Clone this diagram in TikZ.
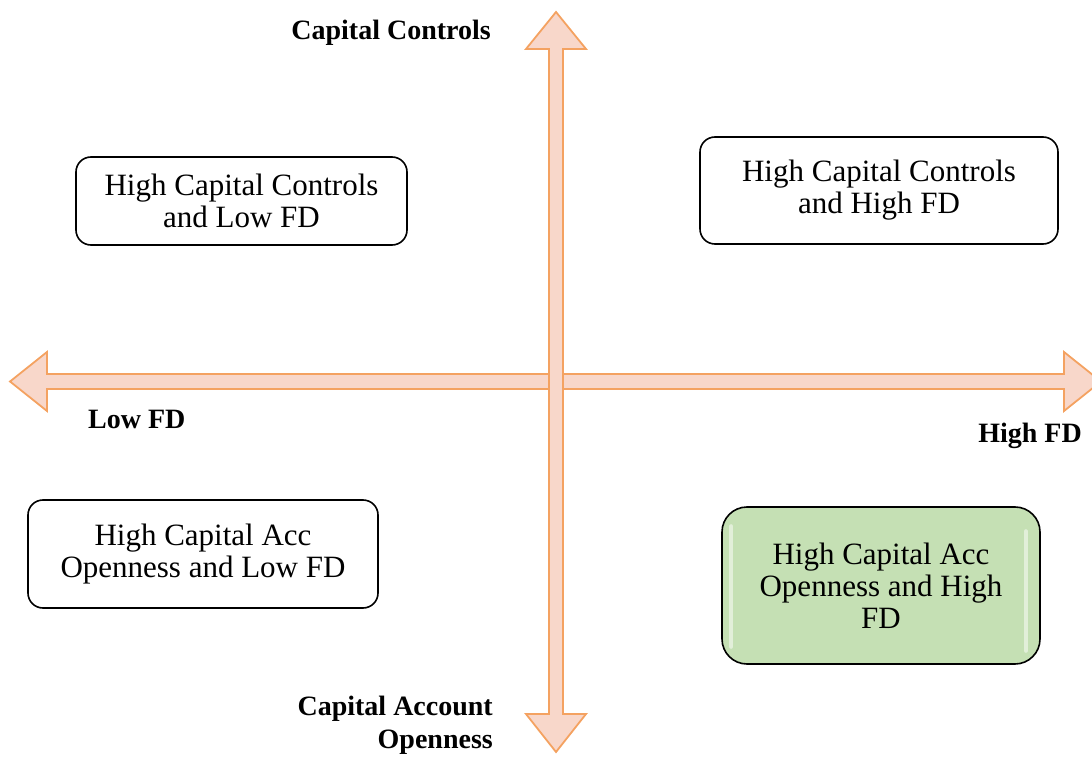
\documentclass[tikz,border=0pt]{standalone}
\usepackage{fontspec}
\setmainfont{Liberation Serif}
\usepackage{tikz}
\definecolor{QuadArrowFill}{RGB}{248,215,202}
\definecolor{QuadArrowEdge}{RGB}{244,162,97}
\definecolor{QuadGreen}{RGB}{197,224,180}

\begin{document}
\begin{tikzpicture}[x=1pt,y=-1pt,
  box/.style n args={4}{draw=black,line width=1.6pt,fill=#1,rounded corners=#2,minimum width=#3,minimum height=#4,align=center,inner sep=0pt,font=\fontsize{31}{32}\selectfont},
  axlab/.style={font=\fontsize{28}{33}\selectfont\bfseries,inner sep=0pt},
  axarrow/.style={draw=QuadArrowEdge,fill=QuadArrowFill,line width=1.8pt,line join=miter}]
    \useasboundingbox (0,0) rectangle (1092,759);
    \clip (0,0) rectangle (1092,759);
    % the two block arrows
    \draw[axarrow] (10,381.5) -- (47,352) -- (47,374) -- (1064,374) -- (1064,352) -- (1101,381.5)
       -- (1064,411) -- (1064,389) -- (47,389) -- (47,411) -- cycle;
    \draw[axarrow] (556,12) -- (586,49) -- (563,49) -- (563,714) -- (586,714) -- (556,752)
       -- (526,714) -- (549,714) -- (549,49) -- (526,49) -- cycle;
    \fill[QuadArrowFill] (550,375) rectangle (562,388);
    % quadrants
    \node[box={white}{15pt}{331pt}{88pt}] (ccLow) at (241.5,201) {High Capital Controls\\and Low FD};
    \node[box={white}{15pt}{358pt}{107pt}] (ccHigh) at (879,190.5) {High Capital Controls\\and High FD};
    \node[box={white}{15pt}{350pt}{108pt}] (kaLow) at (203,554) {High Capital Acc\\Openness and Low FD};
    \node[box={QuadGreen}{25pt}{318pt}{157pt}] (kaHigh) at (881,585.5) {High Capital Acc\\Openness and High\\FD};
    \draw[white,line width=4pt,line cap=round,opacity=0.5]
       ([xshift=10pt,yshift=-20pt]kaHigh.north west) -- ([xshift=10pt,yshift=18pt]kaHigh.south west);
    \draw[white,line width=4pt,line cap=round,opacity=0.5]
       ([xshift=-15pt,yshift=-25pt]kaHigh.north east) -- ([xshift=-15pt,yshift=14pt]kaHigh.south east);
    % axis labels
    \node[axlab,anchor=base east] (ccLabel) at (491,40) {Capital Controls};
    \node[axlab,anchor=base west] (lowLabel) at (88,428) {Low FD};
    \node[axlab,anchor=base east] (highLabel) at (1082,442) {High FD};
    \node[axlab,anchor=north east,align=right] (kaLabel) at (493,696) {Capital Account\\Openness};
\end{tikzpicture}
\end{document}
